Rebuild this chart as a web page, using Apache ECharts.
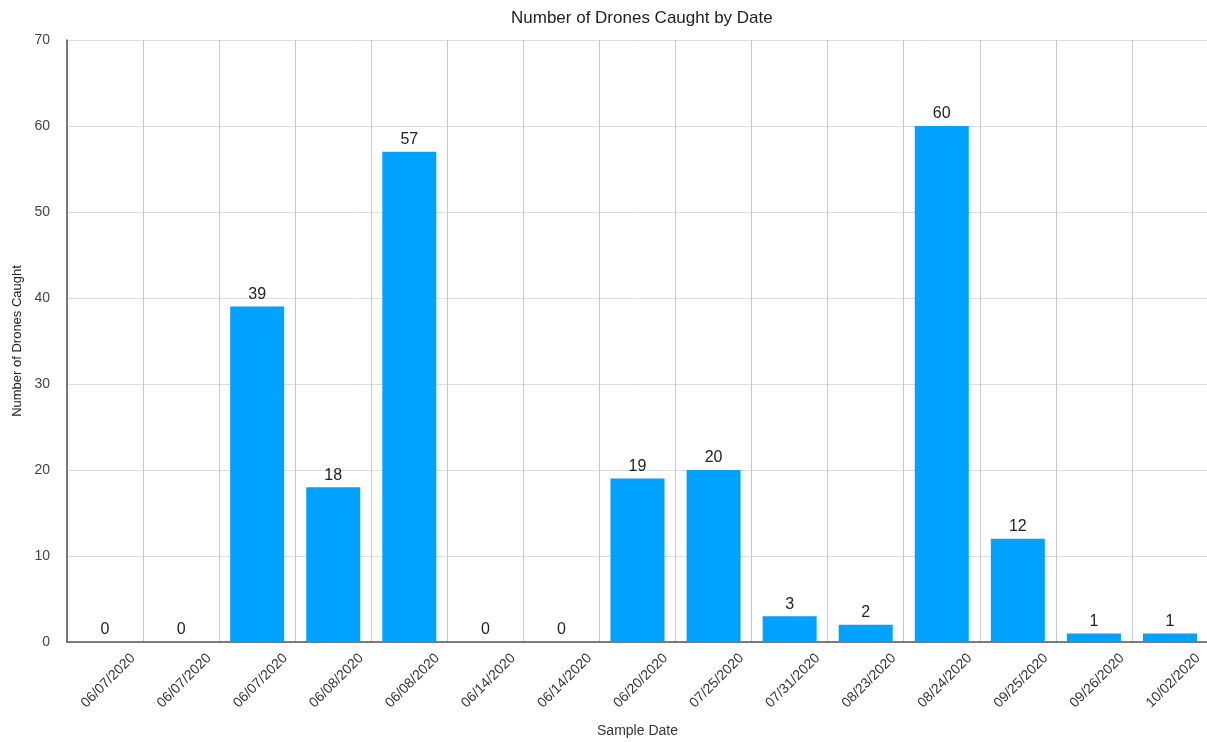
<!DOCTYPE html>
<html>
<head>
<meta charset="utf-8">
<script src="https://cdn.jsdelivr.net/npm/echarts@6/dist/echarts.min.js"></script>
<style>
html,body{margin:0;padding:0;background:#fff;}
#chart{width:1207px;height:742px;}
</style>
</head>
<body>
<div id="chart"></div>
<script>
const categories = ["06/07/2020","06/07/2020","06/07/2020","06/08/2020","06/08/2020","06/14/2020","06/14/2020","06/20/2020","07/25/2020","07/31/2020","08/23/2020","08/24/2020","09/25/2020","09/26/2020","10/02/2020"];
const dronesCaught = [0,0,39,18,57,0,0,19,20,3,2,60,12,1,1];
const yTicks = [0,10,20,30,40,50,60,70];

const FONT = '"Liberation Sans", Arial, sans-serif';
const chart = echarts.init(document.getElementById('chart'), null, {renderer:'canvas'});
chart.setOption({
  animation:false,
  backgroundColor:'#ffffff',
  title:{
    text:'Number of Drones Caught by Date',
    left:506, top:5,
    textStyle:{fontFamily:FONT,fontSize:17,fontWeight:'normal',color:'#222'}
  },
  grid:[
    {left:67,right:-1,top:40,bottom:100,containLabel:false,outerBoundsMode:'none'},
    {left:57,right:9,top:40,bottom:100,containLabel:false,outerBoundsMode:'none'}
  ],
  xAxis:[{
    type:'category',
    gridIndex:0,
    data:categories,
    boundaryGap:true,
    axisLine:{show:true,lineStyle:{color:'#555',width:1.5}},
    axisTick:{show:false},
    axisLabel:{show:false,interval:0},
    splitLine:{show:true,interval:0,lineStyle:{color:'#c8c8c8',width:1}},
    name:'Sample Date',nameLocation:'middle',nameGap:82,
    nameTextStyle:{fontFamily:FONT,fontSize:14,color:'#333'}
  },{
    type:'value',
    gridIndex:1,
    min:0,max:categories.length,interval:1,
    position:'bottom',
    axisLine:{show:false},
    axisTick:{show:false},
    splitLine:{show:false},
    axisLabel:{
      show:true,rotate:45,margin:14,
      fontFamily:FONT,fontSize:14,color:'#333',
      showMinLabel:false,
      formatter:function(v){ const i=Math.round(v)-1; return (i>=0 && i<categories.length)?categories[i]:''; }
    }
  }],
  yAxis:[{
    type:'value',
    gridIndex:0,
    min:yTicks[0],max:yTicks[yTicks.length-1],interval:10,
    axisLine:{show:true,lineStyle:{color:'#555',width:1.5}},
    axisTick:{show:false},
    axisLabel:{fontFamily:FONT,fontSize:14,color:'#444',margin:17},
    splitLine:{show:true,lineStyle:{color:'#dcdcdc',width:1}},
    name:'Number of Drones Caught',nameLocation:'middle',nameGap:42,
    nameTextStyle:{fontFamily:FONT,fontSize:13,color:'#222'}
  },{
    type:'value',
    gridIndex:1,
    min:yTicks[0],max:yTicks[yTicks.length-1],
    show:false
  }],
  series:[{
    type:'bar',
    xAxisIndex:0,
    yAxisIndex:0,
    data:dronesCaught,
    barWidth:54,
    itemStyle:{color:'#00a2ff'},
    label:{show:true,position:'top',distance:4,fontFamily:FONT,fontSize:16,color:'#222'}
  }]
});
</script>
</body>
</html>
